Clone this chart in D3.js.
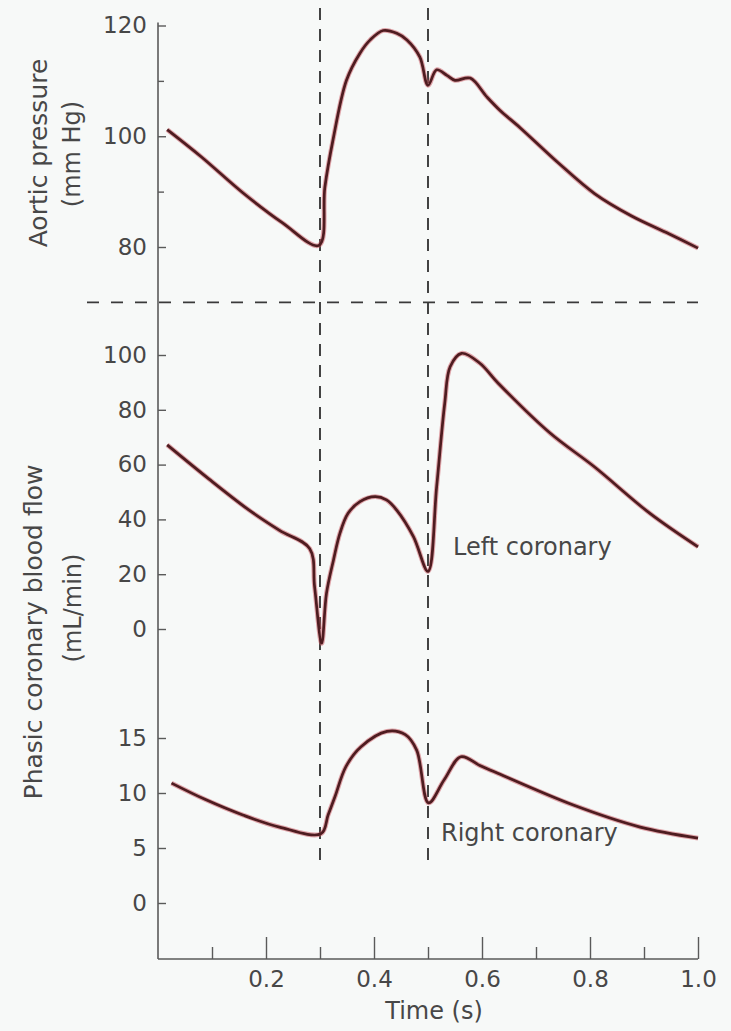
<!DOCTYPE html>
<html>
<head>
<meta charset="utf-8">
<script src="https://cdn.jsdelivr.net/npm/d3@7"></script>
<style>
  html, body { margin: 0; padding: 0; background: #f7f9f8; }
  #chart { width: 731px; height: 1031px; }
</style>
</head>
<body>
<div id="chart"></div>
<script>
// Phasic aortic pressure and coronary blood flow over one cardiac cycle

const timeAortic = [0.017, 0.08, 0.157, 0.23, 0.298, 0.309, 0.324, 0.349, 0.374, 0.393, 0.417, 0.442, 0.461, 0.485, 0.5, 0.516, 0.535, 0.55, 0.578, 0.609, 0.633, 0.671, 0.74, 0.809, 0.877, 0.946, 1.0];
const aorticPressure = [101.2, 96.3, 89.8, 84.4, 80.3, 90.8, 99.3, 110.1, 115, 117.4, 119.1, 118.6, 117.4, 114.3, 109.2, 112, 111, 110.1, 110.5, 107.1, 104.7, 101.5, 95.3, 89.6, 85.6, 82.4, 79.8];

const timeLeft = [0.017, 0.094, 0.17, 0.225, 0.281, 0.29, 0.303, 0.312, 0.325, 0.337, 0.352, 0.374, 0.402, 0.423, 0.442, 0.473, 0.5, 0.516, 0.531, 0.541, 0.562, 0.596, 0.63, 0.726, 0.808, 0.911, 1.0];
const leftFlow = [67.2, 54.8, 43.2, 36.0, 29.3, 15.4, -5.2, 13, 25.2, 35, 42.2, 46.5, 48.3, 47.1, 43.4, 33.7, 21, 51.9, 82.4, 95.7, 100.6, 97, 89.7, 71.5, 59.2, 42.2, 30];

const timeRight = [0.025, 0.088, 0.157, 0.225, 0.302, 0.315, 0.328, 0.348, 0.376, 0.424, 0.458, 0.479, 0.501, 0.53, 0.561, 0.596, 0.624, 0.769, 0.893, 1.0];
const rightFlow = [10.9, 9.4, 8.0, 6.9, 6.3, 8.0, 9.7, 12.4, 14.2, 15.6, 15.3, 13.9, 9.1, 11.2, 13.3, 12.5, 11.9, 8.9, 6.9, 5.9];

const pressureTicks = [80, 100, 120];
const pressureMinorTicks = [90, 110];
const leftTicks = [0, 20, 40, 60, 80, 100];
const rightTicks = [0, 5, 10, 15];
const timeTicks = [0.2, 0.4, 0.6, 0.8, 1.0];
const timeMinorTicks = [0.1, 0.3, 0.5, 0.7, 0.9];
const eventTimes = [0.3, 0.5];
const dividerPressure = 70;

const width = 731, height = 1031;
const fontFamily = '"DejaVu Sans", Verdana, sans-serif';

const colors = {
  background: '#f7f9f8',
  axis: '#5a5a5a',
  text: '#474747',
  dash: '#3a3a3a',
  line: '#4e1c20',
  lineGlow: '#c8505a'
};

const x = d3.scaleLinear().domain([0, 1]).range([158, 698]);
const yP = d3.scaleLinear().domain([80, 120]).range([247, 25.5]);
const yL = d3.scaleLinear().domain([0, 100]).range([629, 355]);
const yR = d3.scaleLinear().domain([0, 15]).range([903, 738]);
const axisBottomY = 959;

const svg = d3.select('#chart')
  .append('svg')
  .attr('width', width)
  .attr('height', height)
  .style('background', colors.background)
  .style('font-family', fontFamily);

// dashed event markers
svg.append('g')
  .selectAll('line')
  .data(eventTimes)
  .enter()
  .append('line')
  .attr('x1', d => x(d))
  .attr('x2', d => x(d))
  .attr('y1', 8)
  .attr('y2', 864)
  .attr('stroke', colors.dash)
  .attr('stroke-width', 1.9)
  .attr('stroke-dasharray', '12 9');

svg.append('line')
  .attr('x1', 87)
  .attr('x2', x(1))
  .attr('y1', yP(dividerPressure))
  .attr('y2', yP(dividerPressure))
  .attr('stroke', colors.dash)
  .attr('stroke-width', 1.9)
  .attr('stroke-dasharray', '12 12');

// axes
function styleAxis(g) {
  g.select('.domain').remove();
  g.selectAll('line').attr('stroke', colors.axis).attr('stroke-width', 1.4);
  g.selectAll('text')
    .attr('fill', colors.text)
    .attr('font-size', '23px')
    .attr('font-family', fontFamily);
}

function addLeftAxis(scale, ticks, minor) {
  svg.append('g')
    .attr('transform', `translate(${x(0)},0)`)
    .call(d3.axisLeft(scale).tickValues(ticks).tickSizeInner(-8).tickPadding(11).tickFormat(d3.format('d')))
    .call(styleAxis);
  if (minor) {
    svg.append('g')
      .attr('transform', `translate(${x(0)},0)`)
      .call(d3.axisLeft(scale).tickValues(minor).tickSizeInner(-6).tickFormat(''))
      .call(styleAxis);
  }
}

addLeftAxis(yP, pressureTicks, pressureMinorTicks);
addLeftAxis(yL, leftTicks);
addLeftAxis(yR, rightTicks);

svg.append('g')
  .attr('transform', `translate(0,${axisBottomY})`)
  .call(d3.axisBottom(x).tickValues(timeTicks).tickSizeInner(-22).tickPadding(12).tickFormat(d3.format('.1f')))
  .call(styleAxis);

svg.append('g')
  .attr('transform', `translate(0,${axisBottomY})`)
  .call(d3.axisBottom(x).tickValues(timeMinorTicks).tickSizeInner(-12).tickFormat(''))
  .call(styleAxis);

svg.append('line')
  .attr('x1', x(0)).attr('x2', x(0))
  .attr('y1', yP(120) - 3).attr('y2', axisBottomY)
  .attr('stroke', colors.axis).attr('stroke-width', 1.6);

svg.append('line')
  .attr('x1', x(0)).attr('x2', x(1))
  .attr('y1', axisBottomY).attr('y2', axisBottomY)
  .attr('stroke', colors.axis).attr('stroke-width', 1.6);

// curves
function drawCurve(times, values, scale) {
  const pts = times.map((t, i) => [t, values[i]]);
  const line = d3.line()
    .x(d => x(d[0]))
    .y(d => scale(d[1]))
    .curve(d3.curveCatmullRom.alpha(0.5));
  svg.append('path')
    .datum(pts)
    .attr('fill', 'none')
    .attr('stroke', colors.lineGlow)
    .attr('stroke-opacity', 0.5)
    .attr('stroke-width', 4.8)
    .attr('stroke-linejoin', 'round')
    .attr('d', line);
  svg.append('path')
    .datum(pts)
    .attr('fill', 'none')
    .attr('stroke', colors.line)
    .attr('stroke-width', 2.7)
    .attr('stroke-linejoin', 'round')
    .attr('d', line);
}

drawCurve(timeAortic, aorticPressure, yP);
drawCurve(timeLeft, leftFlow, yL);
drawCurve(timeRight, rightFlow, yR);

// labels
function addText(tx, ty, str, opts = {}) {
  svg.append('text')
    .attr('transform', `translate(${tx},${ty})${opts.rotate ? ' rotate(-90)' : ''}`)
    .attr('text-anchor', opts.anchor || 'middle')
    .attr('dy', '0.35em')
    .attr('fill', colors.text)
    .attr('font-size', `${opts.size || 24}px`)
    .text(str);
}

addText(38, 153, 'Aortic pressure', { rotate: true, size: 25 });
addText(72, 154, '(mm Hg)', { rotate: true, size: 24 });
addText(33, 632, 'Phasic coronary blood flow', { rotate: true, size: 25 });
addText(73, 608, '(mL/min)', { rotate: true, size: 24 });
addText(434, 1011, 'Time (s)', { size: 24 });
addText(453, 547, 'Left coronary', { anchor: 'start', size: 24 });
addText(441, 833, 'Right coronary', { anchor: 'start', size: 24 });
</script>
</body>
</html>
